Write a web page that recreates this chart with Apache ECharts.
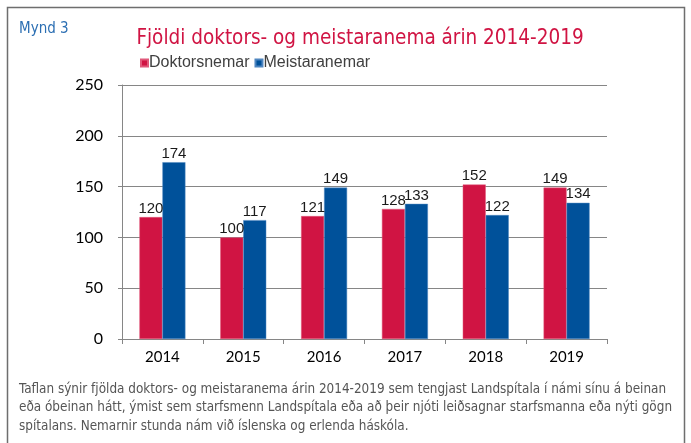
<!DOCTYPE html>
<html>
<head>
<meta charset="utf-8">
<script src="https://cdn.jsdelivr.net/npm/echarts@6/dist/echarts.min.js"></script>
<style>
  html, body { margin: 0; padding: 0; background: #fff; }
  #chart { width: 691px; height: 443px; }
</style>
</head>
<body>
<div id="chart"></div>
<script>
// gögn lesin af myndinni
const years = ['2014', '2015', '2016', '2017', '2018', '2019']
const doktorsnemar = [120, 100, 121, 128, 152, 149]
const meistaranemar = [174, 117, 149, 133, 122, 134]
const yTicks = { min: 0, max: 250, interval: 50 }

const titleText = 'Fjöldi doktors- og meistaranema árin 2014-2019'
const figLabel = 'Mynd 3'
const captionLines = [
  'Taflan sýnir fjölda doktors- og meistaranema árin 2014-2019 sem tengjast Landspítala í námi sínu á beinan',
  'eða óbeinan hátt, ýmist sem starfsmenn Landspítala eða að þeir njóti leiðsagnar starfsmanna eða nýti gögn',
  'spítalans. Nemarnir stunda nám við íslenska og erlenda háskóla.'
]

const RED = '#d01443'
const BLUE = '#00519a'
const GRID = '#868686'
const narrow = '"DejaVu Sans Condensed", Lato, sans-serif'
const arial = '"Liberation Sans", Arial, sans-serif'

const chart = echarts.init(document.getElementById('chart'), null, { renderer: 'canvas' })

const option = {
  animation: false,
  backgroundColor: '#fff',
  grid: { left: 122, right: 84, top: 85, bottom: 104, containLabel: false },
  legend: {
    left: 140, top: 55, padding: 0,
    itemWidth: 7, itemHeight: 7, itemGap: 5,
    icon: 'rect',
    textStyle: { fontFamily: arial, fontSize: 16, color: '#404040', padding: [0, 0, 0, -4] },
    data: ['Doktorsnemar', 'Meistaranemar']
  },
  xAxis: {
    type: 'category',
    data: years,
    axisLine: { lineStyle: { color: GRID, width: 1 } },
    axisTick: { show: true, length: 5, alignWithLabel: false, lineStyle: { color: GRID } },
    axisLabel: { margin: 11, fontFamily: 'Lato', fontSize: 15, color: '#000' }
  },
  yAxis: {
    type: 'value',
    min: yTicks.min, max: yTicks.max, interval: yTicks.interval,
    axisLine: { show: true, lineStyle: { color: GRID, width: 1 } },
    axisTick: { show: true, length: 4, lineStyle: { color: GRID } },
    splitLine: { lineStyle: { color: GRID, width: 1 } },
    axisLabel: { margin: 19, fontFamily: 'Lato', fontSize: 16, color: '#000' }
  },
  series: [
    {
      name: 'Doktorsnemar', type: 'bar', data: doktorsnemar,
      barWidth: 23, barGap: '0%',
      itemStyle: { color: RED, borderColor: '#e0587a', borderWidth: 0.5 },
      label: { show: true, position: 'top', distance: 1, fontFamily: arial, fontSize: 15, color: '#1a1a1a' }
    },
    {
      name: 'Meistaranemar', type: 'bar', data: meistaranemar,
      barWidth: 23,
      itemStyle: { color: BLUE, borderColor: '#4f86c0', borderWidth: 0.5 },
      label: { show: true, position: 'top', distance: 1, fontFamily: arial, fontSize: 15, color: '#1a1a1a' }
    }
  ],
  graphic: [
    {
      type: 'rect', z: -1, silent: true,
      shape: { x: 7.5, y: 7.5, width: 677, height: 460 },
      style: { fill: 'none', stroke: '#6e6e6e', lineWidth: 1.5 }
    },
    {
      type: 'text', x: 19, y: 22,
      style: { text: figLabel, font: '15px ' + narrow, fill: '#2c6fb3' }
    },
    {
      type: 'text', x: 360, y: 28,
      style: { text: titleText, font: '20.5px ' + narrow, fill: RED, align: 'center' }
    },
    {
      type: 'text', x: 19, y: 380,
      style: { text: captionLines.join('\n'), font: '13.4px ' + narrow, fill: '#555', lineHeight: 18.5 }
    }
  ]
}

chart.setOption(option)
</script>
</body>
</html>
